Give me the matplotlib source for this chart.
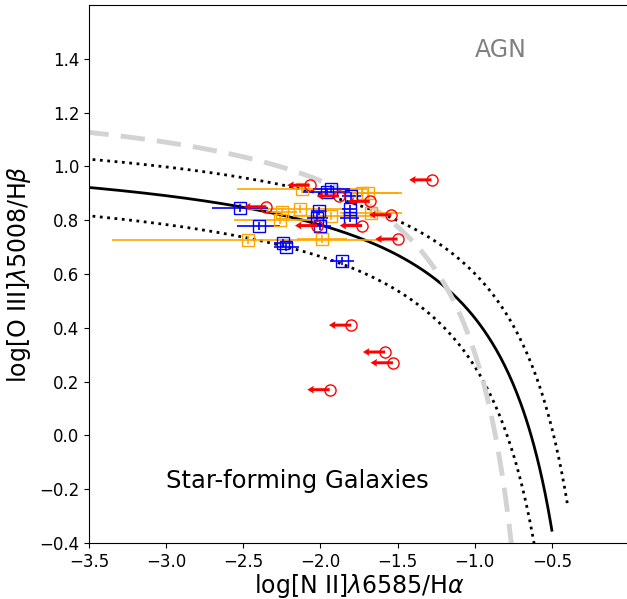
import numpy as np
import matplotlib
matplotlib.use("Agg")
import matplotlib.pyplot as plt

# red: upper limits on [N II]/Ha
red_x = [-2.07, -1.88, -1.68, -1.54, -1.73, -2.02, -2.35, -1.50, -1.28, -1.80, -1.58, -1.53, -1.94]
red_y = [0.93, 0.89, 0.87, 0.82, 0.78, 0.78, 0.85, 0.73, 0.95, 0.41, 0.31, 0.27, 0.17]
red_lim = 0.145

# blue squares
blue_x = [-2.52, -2.40, -2.24, -2.22, -1.86, -1.93, -1.96, -2.01, -2.02, -2.00, -1.81, -1.81, -1.80]
blue_y = [0.845, 0.78, 0.715, 0.70, 0.65, 0.915, 0.905, 0.835, 0.81, 0.78, 0.84, 0.81, 0.89]
blue_xerr = [0.18, 0.14, 0.06, 0.08, 0.08, 0.12, 0.15, 0.05, 0.07, 0.07, 0.05, 0.06, 0.06]
blue_yerr = [0.015] * len(blue_x)

# orange squares
orng_x = [-2.47, -2.26, -2.25, -2.12, -2.13, -1.93, -1.99, -1.73, -1.69, -1.67]
orng_y = [0.725, 0.80, 0.83, 0.915, 0.84, 0.815, 0.73, 0.90, 0.90, 0.825]
orng_xerr = [0.88, 0.30, 0.10, 0.42, 0.35, 0.25, 0.16, 0.26, 0.20, 0.20]
orng_yerr = [0.015] * len(orng_x)

# demarcation curves y = a/(x-b)+c
main_a, main_b, main_c, main_end = 0.61, -0.08, 1.10, -0.5
shift = 0.1
ka_a, ka_b, ka_c, ka_end = 0.58, -0.425, 1.315, -0.76

fig = plt.figure(figsize=(6.27, 5.99), dpi=100)
ax = fig.add_axes([89/627, 56/599, 540/627, 538/599])

x = np.linspace(-4, main_end, 400)
ax.plot(x, main_a/(x-main_b)+main_c, color='black', lw=2)
x = np.linspace(-4, main_end+shift, 400)
ax.plot(x, main_a/(x-main_b-shift)+main_c+shift, color='black', lw=2, ls=':')
x = np.linspace(-4, main_end-shift, 400)
ax.plot(x, main_a/(x-main_b+shift)+main_c-shift, color='black', lw=2, ls=':')
x = np.linspace(-4, ka_end, 400)
ax.plot(x, ka_a/(x-ka_b)+ka_c, color='lightgray', lw=3.5, dashes=(5, 2.5))

ax.errorbar(orng_x, orng_y, xerr=orng_xerr, yerr=orng_yerr, fmt='s', mfc='none', mec='orange',
            ecolor='orange', ms=8, mew=1, elinewidth=1.2, capsize=0)
ax.errorbar(blue_x, blue_y, xerr=blue_xerr, yerr=blue_yerr, fmt='s', mfc='none', mec='blue',
            ecolor='blue', ms=8, mew=1, elinewidth=1.2, capsize=0)
ax.quiver(red_x, red_y, [-red_lim]*len(red_x), [0]*len(red_x), angles='xy', scale_units='xy',
          scale=1, color='red', width=0.0055, headwidth=2.6, headlength=2.2, headaxislength=2.0,
          zorder=4)
ax.plot(red_x, red_y, 'o', mfc='none', mec='red', ms=8, mew=1, zorder=4)

ax.text(-1.0, 1.434, 'AGN', fontsize=17, color='gray', va='center')
ax.text(-3.0, -0.17, 'Star-forming Galaxies', fontsize=17.5, va='center')

ax.set_xlim(-3.5, 0.0)
ax.set_ylim(-0.4, 1.6)
ax.set_xticks(np.arange(-3.5, -0.4, 0.5))
ax.set_yticks(np.arange(-0.4, 1.41, 0.2))
ax.tick_params(labelsize=12)
ax.set_xlabel(r'log[N II]$\lambda$6585/H$\alpha$', fontsize=17, labelpad=1)
ax.set_ylabel(r'log[O III]$\lambda$5008/H$\beta$', fontsize=17)

fig.savefig('out.png', dpi=100)
